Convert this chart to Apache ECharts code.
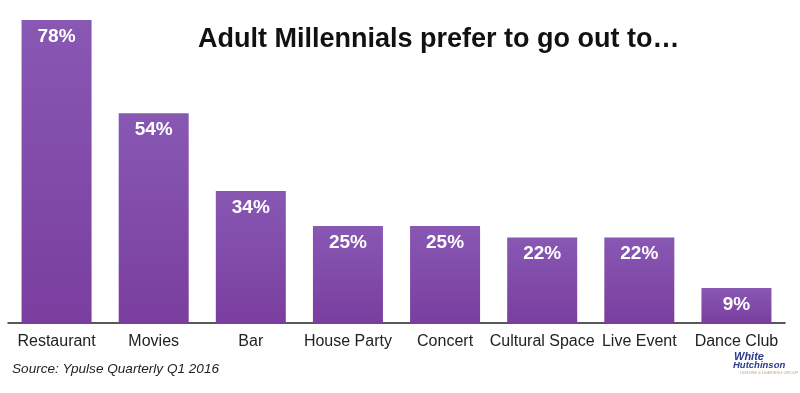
<!DOCTYPE html>
<html>
<head>
<meta charset="utf-8">
<script src="https://cdn.jsdelivr.net/npm/echarts@6/dist/echarts.min.js"></script>
<style>html,body{margin:0;padding:0;background:#fff;}#c{width:800px;height:393px;}</style>
</head>
<body>
<div id="c"></div>
<script>
const categories = ['Restaurant','Movies','Bar','House Party','Concert','Cultural Space','Live Event','Dance Club'];
const values = [78, 54, 34, 25, 25, 22, 22, 9];
const titleText = 'Adult Millennials prefer to go out to…';
const sourceText = 'Source: Ypulse Quarterly Q1 2016';

const chart = echarts.init(document.getElementById('c'));
chart.setOption({
  backgroundColor: '#fff',
  animation: false,
  title: {
    text: titleText,
    left: 193, top: 21,
    textStyle: {fontFamily: 'Liberation Sans, Arial, sans-serif', fontWeight: 'bold', fontSize: 27, color: '#111'}
  },
  grid: {left: 8, right: 15, top: 20, bottom: 70, containLabel: false},
  xAxis: {
    type: 'category', data: categories,
    axisLine: {lineStyle: {color: '#222', width: 1.5}},
    axisTick: {show: false},
    axisLabel: {color: '#222', fontSize: 16, fontFamily: 'Liberation Sans, Arial, sans-serif', margin: 11, interval: 0}
  },
  yAxis: {type: 'value', min: 0, max: 78, show: false, splitLine: {show: false}},
  series: [{
    type: 'bar', data: values, barWidth: 70,
    itemStyle: {
      color: new echarts.graphic.LinearGradient(0, 0, 0, 1, [
        {offset: 0, color: '#8858B3'},
        {offset: 1, color: '#7A3E9F'}
      ])
    },
    label: {
      show: true, position: 'insideTop', distance: 7,
      formatter: '{c}%', color: '#fff', fontWeight: 'bold', fontSize: 19,
      fontFamily: 'Liberation Sans, Arial, sans-serif'
    }
  }],
  graphic: [
    {type: 'text', left: 12, top: 362, style: {text: sourceText, font: 'italic 13.6px Liberation Sans, Arial, sans-serif', fill: '#222'}},
    {type: 'text', left: 734, top: 351, style: {text: 'White', font: 'italic bold 11px Liberation Sans, Arial, sans-serif', fill: '#2B3A8C'}},
    {type: 'text', left: 733, top: 360, style: {text: 'Hutchinson', font: 'italic bold 9.5px Liberation Sans, Arial, sans-serif', fill: '#2B3A8C'}},
    {type: 'text', left: 740, top: 371, style: {text: 'LEISURE & LEARNING GROUP', font: '4px Liberation Sans, Arial, sans-serif', fill: '#C9A27A'}}
  ]
});
</script>
</body>
</html>
